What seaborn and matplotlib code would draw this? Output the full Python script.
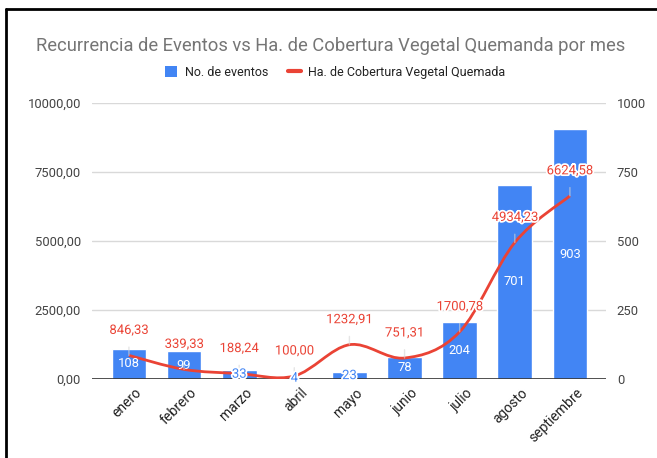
import matplotlib
matplotlib.use("Agg")
import matplotlib.pyplot as plt
import seaborn as sns
import numpy as np
from matplotlib.path import Path
from matplotlib.patches import PathPatch, Patch
from matplotlib.lines import Line2D
from matplotlib.ticker import FuncFormatter
from matplotlib.transforms import ScaledTranslation
import matplotlib.patheffects as pe

meses = ['enero', 'febrero', 'marzo', 'abril', 'mayo', 'junio', 'julio', 'agosto', 'septiembre']
eventos = [108, 99, 33, 4, 23, 78, 204, 701, 903]
hectareas = [846.33, 339.33, 188.24, 100.00, 1232.91, 751.31, 1700.78, 4934.23, 6624.58]

azul = '#4285f4'
rojo = '#ea4335'

sns.set_style('white')
plt.rcParams['font.family'] = ['Roboto', 'DejaVu Sans']

fig = plt.figure(figsize=(6.57, 4.58), dpi=100)
ax = fig.add_axes([0.140, 0.173, 0.782, 0.603])

# bars on the right-hand scale
sns.barplot(x=meses, y=eventos, ax=ax, color=azul, saturation=1, width=0.63, zorder=2)
ax.set_xlim(-0.67, 8.65)
ax.set_ylim(0, 1000)
ax.set_yticks([0, 250, 500, 750, 1000])
ax.grid(axis='y', color='#d9d9d9', lw=1, zorder=0)
ax.axhline(0, color='#333333', lw=1.2, zorder=3)
for s in ax.spines.values():
    s.set_visible(False)
ax.tick_params(axis='x', length=0, pad=5, labelsize=10, labelcolor='#222222')
shift = ScaledTranslation(6 / 100, 0, fig.dpi_scale_trans)
for lab in ax.get_xticklabels():
    lab.set_rotation(45)
    lab.set_ha('right')
    lab.set_rotation_mode('anchor')
    lab.set_transform(lab.get_transform() + shift)
ax.set_xlabel('')
ax.set_ylabel('')

# line on the left-hand scale
ax2 = ax.twinx()
ax2.set_ylim(0, 10000)
ax2.set_yticks([0, 2500, 5000, 7500, 10000])
ax2.yaxis.set_major_formatter(FuncFormatter(lambda v, p: f'{v:.2f}'.replace('.', ',')))
for s in ax2.spines.values():
    s.set_visible(False)

# swap sides: events on the right, hectares on the left
ax.yaxis.tick_right()
ax2.yaxis.tick_left()
ax.tick_params(axis='y', length=0, pad=8, labelsize=9.4, labelcolor='#444444',
               labelleft=False, labelright=True)
ax2.tick_params(axis='y', length=0, pad=8, labelsize=9.4, labelcolor='#444444',
                labelleft=True, labelright=False)

# smooth curve through the points (Catmull-Rom as Bezier segments)
xs = np.arange(len(hectareas), dtype=float)
ys = np.array(hectareas)
verts = [(xs[0], ys[0])]
codes = [Path.MOVETO]
k = 1 / 6
for i in range(len(xs) - 1):
    x0, y0 = (xs[i - 1], ys[i - 1]) if i > 0 else (xs[i], ys[i])
    x1, y1 = xs[i], ys[i]
    x2, y2 = xs[i + 1], ys[i + 1]
    x3, y3 = (xs[i + 2], ys[i + 2]) if i + 2 < len(xs) else (xs[i + 1], ys[i + 1])
    c1 = (x1 + (x2 - x0) * k, y1 + (y2 - y0) * k)
    c2 = (x2 - (x3 - x1) * k, y2 - (y3 - y1) * k)
    verts += [c1, c2, (x2, y2)]
    codes += [Path.CURVE4] * 3
ax2.add_patch(PathPatch(Path(verts, codes), fill=False, edgecolor=rojo, lw=2, zorder=5))

# bar labels drawn above the line
for i, v in enumerate(eventos):
    if v >= 50:
        ax2.text(i, v / 2, str(v), transform=ax.transData, ha='center', va='center',
                 color='white', fontsize=9.4, zorder=7)
    else:
        ax2.text(i, v / 2, str(v), transform=ax.transData, ha='center', va='center',
                 color=azul, fontsize=9.4, zorder=7,
                 path_effects=[pe.withStroke(linewidth=2.5, foreground='white')])

for i, v in enumerate(hectareas):
    ax2.annotate(f'{v:.2f}'.replace('.', ','), xy=(i, v), xytext=(0, 18), textcoords='offset points',
                 ha='center', va='center', color=rojo, fontsize=9.4, zorder=6,
                 path_effects=[pe.withStroke(linewidth=2.5, foreground='white')],
                 arrowprops=dict(arrowstyle='-', color='#d5d5d5', alpha=0.6, lw=1, shrinkA=5, shrinkB=0))

fig.suptitle('Recurrencia de Eventos vs Ha. de Cobertura Vegetal Quemanda por mes',
             x=0.503, y=0.92, fontsize=13.2, color='#757575')

handles = [Patch(facecolor=azul, edgecolor='none'),
           Line2D([0], [0], color=rojo, lw=3)]
fig.legend(handles, ['No. de eventos', 'Ha. de Cobertura Vegetal Quemada'],
           loc='center', bbox_to_anchor=(0.51, 0.842), ncol=2, frameon=False,
           fontsize=9, handlelength=1.0, handleheight=1.0, columnspacing=1.6,
           handletextpad=0.6, labelcolor='#222222')

# screenshot frame
fig.add_artist(Line2D([6 / 657, 6 / 657], [0, 1 - 9 / 458], transform=fig.transFigure, color='black', lw=2))
fig.add_artist(Line2D([6 / 657, 1], [1 - 9 / 458, 1 - 9 / 458], transform=fig.transFigure, color='black', lw=2))

fig.savefig('out.png', dpi=100)
